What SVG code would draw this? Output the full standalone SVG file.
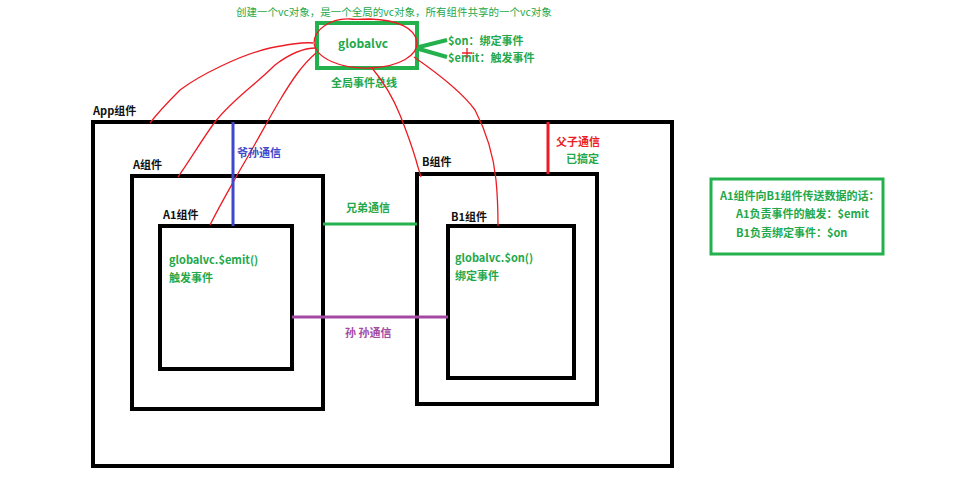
<svg xmlns="http://www.w3.org/2000/svg" width="975" height="491" viewBox="0 0 975 491">
<style>
text{font-family:"Microsoft YaHei","Noto Sans CJK SC","Noto Sans",sans-serif;font-size:11px;font-weight:bold}
.lbl{fill:#111}
.g{fill:#22a84a}
.box{fill:none;stroke:#000;stroke-width:4}
.red{fill:none;stroke:#ed1c24;stroke-width:1.3}
</style>
<rect width="975" height="491" fill="#fff"/>

<g id="app">
<rect class="box" x="93" y="122" width="579" height="344"/>
<text class="lbl" x="93" y="115">App组件</text>
</g>
<g id="a">
<rect class="box" x="132" y="176" width="191" height="233"/>
<text class="lbl" x="133" y="169">A组件</text>
</g>
<g id="a1">
<rect class="box" x="160" y="226" width="132" height="143"/>
<text class="lbl" x="163" y="219">A1组件</text>
<text class="g" x="169" y="264">globalvc.$emit()</text>
<text class="g" x="169" y="282">触发事件</text>
</g>
<g id="b">
<rect class="box" x="417" y="174" width="180" height="230"/>
<text class="lbl" x="422" y="166">B组件</text>
</g>
<g id="b1">
<rect class="box" x="448" y="226" width="126" height="152"/>
<text class="lbl" x="451" y="221">B1组件</text>
<text class="g" x="455" y="262">globalvc.$on()</text>
<text class="g" x="455" y="280">绑定事件</text>
</g>
<g id="globalvc">
<rect x="317" y="23" width="100" height="45" fill="none" stroke="#22b14c" stroke-width="4"/>
<text class="g" x="338" y="48" style="font-size:12px">globalvc</text>
<text class="g" x="236" y="16" style="font-size:10.5px;font-weight:normal">创建一个vc对象，是一个全局的vc对象，所有组件共享的一个vc对象</text>
<text class="g" x="331" y="87">全局事件总线</text>
<line x1="419" y1="47" x2="447" y2="40" stroke="#22b14c" stroke-width="4"/>
<line x1="419" y1="49" x2="447" y2="57" stroke="#22b14c" stroke-width="4"/>
<text class="g" x="448" y="45">$on：绑定事件</text>
<text class="g" x="448" y="62">$emit：触发事件</text>
</g>
<g id="note">
<rect x="711" y="179" width="172" height="75" fill="none" stroke="#22b14c" stroke-width="3"/>
<text class="g" x="720" y="200">A1组件向B1组件传送数据的话：</text>
<text class="g" x="736" y="218">A1负责事件的触发：$emit</text>
<text class="g" x="736" y="237">B1负责绑定事件：$on</text>
</g>

<g id="connectors">
<path class="red" d="M350,19 C330,18 314,30 314,43 C316,58 340,69 370,68 C400,67 418,55 417,42 C415,28 398,20 370,19 C362,19 356,20 350,19"/>
<path class="red" d="M462,53 H472 M467,48 V58"/>
<path class="red" d="M150,123 C160,110 170,100 180,90 C200,75 240,55 270,48 C290,44 305,42 313,43"/>
<path class="red" d="M178,177 C190,160 205,135 215,122 C232,100 255,85 275,65 C292,52 305,48 316,48"/>
<path class="red" d="M210,225 C220,205 230,188 240,170 C255,145 268,120 280,100 C292,80 302,65 316,53"/>
<path class="red" d="M372,68 C382,80 392,95 400,115 C408,135 413,150 416,160 C418,168 420,173 421,177"/>
<path class="red" d="M414,57 C440,75 462,92 475,110 C488,135 494,160 496,180 C498,200 498,215 498,226"/>
<line x1="233" y1="122" x2="233" y2="226" stroke="#3f48cc" stroke-width="3"/>
<text x="237" y="157" style="fill:#3f48cc">爷孙通信</text>
<line x1="323" y1="224" x2="417" y2="224" stroke="#22b14c" stroke-width="3"/>
<text x="346" y="212" style="fill:#22a84a">兄弟通信</text>
<line x1="292" y1="317" x2="448" y2="317" stroke="#a349a4" stroke-width="3"/>
<text x="345" y="337" style="fill:#a349a4">孙 孙通信</text>
<line x1="548" y1="122" x2="548" y2="174" stroke="#ed1c24" stroke-width="3"/>
<text x="556" y="146" style="fill:#ed1c24">父子通信</text>
<text x="566" y="163" style="fill:#22a84a">已搞定</text>
</g>
</svg>
